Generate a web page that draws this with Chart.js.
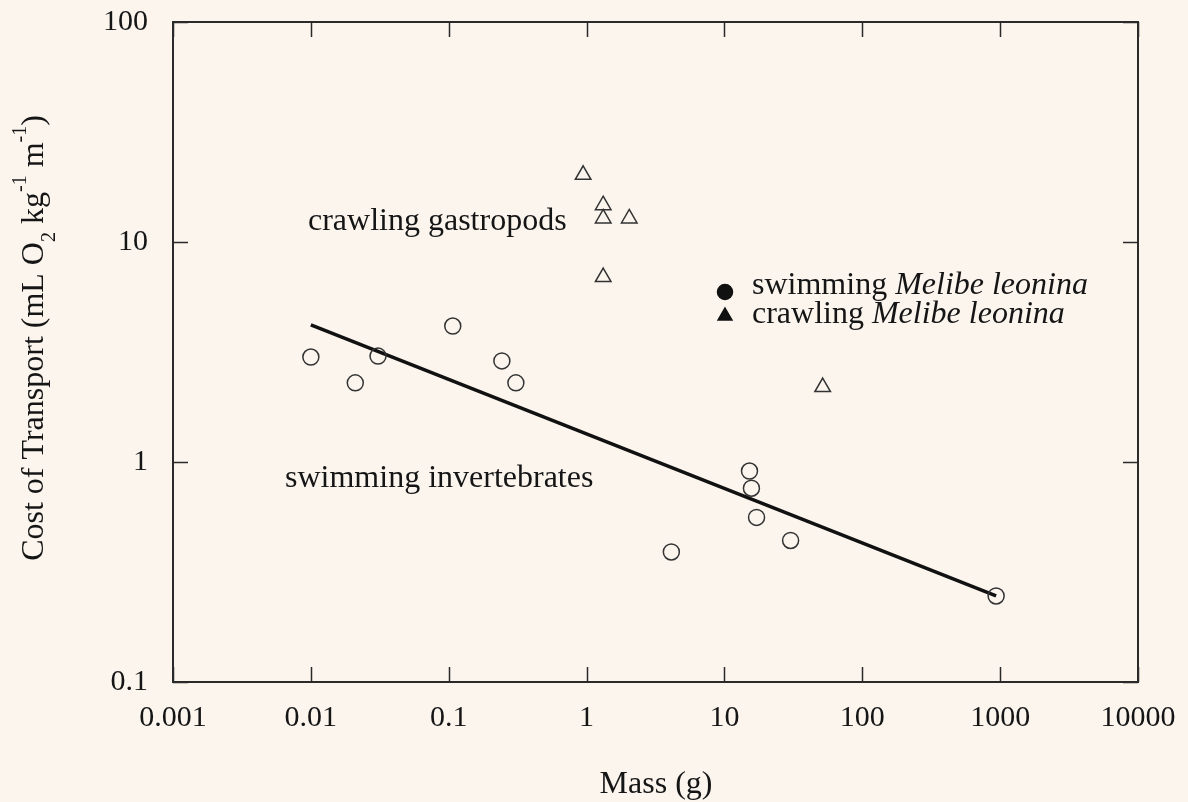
<!DOCTYPE html>
<html lang="en">
<head>
<meta charset="UTF-8">
<title>Cost of Transport vs Mass</title>
<script src="https://cdn.jsdelivr.net/npm/chart.js@4.4.0/dist/chart.umd.min.js"></script>
<style>
  html, body { margin: 0; padding: 0; background: #fbf5ee; }
  #wrap { width: 1188px; height: 802px; }
</style>
</head>
<body>
<div id="wrap"><canvas id="chart" width="1188" height="802"></canvas></div>
<script>
// data (log-log)
const swimMass = [0.01, 0.021, 0.0307, 0.107, 0.243, 0.307, 4.12, 15.2, 15.7, 17.1, 30.2, 935];
const swimCost = [3.0, 2.29, 3.03, 4.15, 2.88, 2.29, 0.39, 0.91, 0.76, 0.56, 0.44, 0.246];

const crawlMass = [0.944, 1.32, 1.32, 2.04, 1.32, 51.6];
const crawlCost = [20.2, 14.7, 12.8, 12.8, 6.93, 2.19];

// regression line for swimming invertebrates
const fitMass = [0.01, 935];
const fitCost = [4.2, 0.246];

const xTicks = [0.001, 0.01, 0.1, 1, 10, 100, 1000, 10000];
const xTickLabels = ['0.001', '0.01', '0.1', '1', '10', '100', '1000', '10000'];
const yTicks = [0.1, 1, 10, 100];
const yTickLabels = ['0.1', '1', '10', '100'];

const SERIF = '"Liberation Serif", "Times New Roman", serif';
const INK = '#151515';

const toPoints = (xs, ys) => xs.map((x, i) => ({ x: x, y: ys[i] }));

// box, inward ticks, titles, annotations and the legend
const decorPlugin = {
  id: 'decor',
  beforeDraw(chart) {
    const ctx = chart.ctx;
    ctx.save();
    ctx.fillStyle = '#fbf5ee';
    ctx.fillRect(0, 0, chart.width, chart.height);
    ctx.restore();
  },
  afterDraw(chart) {
    const ctx = chart.ctx;
    const a = chart.chartArea;
    const xs = chart.scales.x, ys = chart.scales.y;
    ctx.save();

    // frame
    ctx.strokeStyle = '#2a2a2a';
    ctx.lineWidth = 2;
    ctx.strokeRect(a.left, a.top, a.right - a.left, a.bottom - a.top);

    // inward ticks on all sides
    const tl = 15;
    ctx.lineWidth = 1.5;
    ctx.beginPath();
    xTicks.forEach(v => {
      const px = Math.round(xs.getPixelForValue(v)) + 0.5;
      ctx.moveTo(px, a.bottom); ctx.lineTo(px, a.bottom - tl);
      ctx.moveTo(px, a.top); ctx.lineTo(px, a.top + tl);
    });
    yTicks.forEach(v => {
      const py = Math.round(ys.getPixelForValue(v)) + 0.5;
      ctx.moveTo(a.left, py); ctx.lineTo(a.left + tl, py);
      ctx.moveTo(a.right, py); ctx.lineTo(a.right - tl, py);
    });
    ctx.stroke();

    ctx.fillStyle = INK;
    const big = '32px ' + SERIF, small = '20px ' + SERIF;

    // x title
    ctx.font = big;
    ctx.textAlign = 'center';
    ctx.textBaseline = 'alphabetic';
    ctx.fillText('Mass (g)', 656, 793);

    // y title with sub/superscripts
    const parts = [
      { t: 'Cost of Transport (mL O', s: 0 },
      { t: '2', s: 1 },
      { t: ' kg', s: 0 },
      { t: '-1', s: -1 },
      { t: ' m', s: 0 },
      { t: '-1', s: -1 },
      { t: ')', s: 0 }
    ];
    let total = 0;
    parts.forEach(p => { ctx.font = p.s ? small : big; p.w = ctx.measureText(p.t).width; total += p.w; });
    ctx.translate(43, 338);
    ctx.rotate(-Math.PI / 2);
    ctx.textAlign = 'left';
    let cx = -total / 2;
    parts.forEach(p => {
      ctx.font = p.s ? small : big;
      const dy = p.s === 1 ? 12 : (p.s === -1 ? -17 : 0);
      ctx.fillText(p.t, cx, dy);
      cx += p.w;
    });
    ctx.setTransform(1, 0, 0, 1, 0, 0);

    // group labels
    ctx.font = big;
    ctx.textAlign = 'left';
    ctx.fillText('crawling gastropods', 308, 230);
    ctx.fillText('swimming invertebrates', 285, 487);

    // legend
    const legend = [
      { style: 'circle', y: 292, base: 294, word: 'swimming ' },
      { style: 'triangle', y: 316, base: 323, word: 'crawling ' }
    ];
    legend.forEach(l => {
      const opts = { pointStyle: l.style, radius: l.style === 'circle' ? 7.5 : 8, rotation: 0, borderWidth: 1 };
      ctx.fillStyle = '#111';
      ctx.strokeStyle = '#111';
      if (Chart.helpers && Chart.helpers.drawPoint) {
        Chart.helpers.drawPoint(ctx, opts, 725, l.y);
      }
      ctx.fillStyle = INK;
      ctx.font = big;
      ctx.fillText(l.word, 752, l.base);
      const w = ctx.measureText(l.word).width;
      ctx.font = 'italic ' + big;
      ctx.fillText('Melibe leonina', 752 + w, l.base);
    });

    ctx.restore();
  }
};

new Chart(document.getElementById('chart'), {
  type: 'scatter',
  data: {
    datasets: [
      {
        type: 'line',
        label: 'fit',
        data: toPoints(fitMass, fitCost),
        borderColor: '#111',
        borderWidth: 3.5,
        pointRadius: 0,
        fill: false,
        order: 3
      },
      {
        label: 'swimming invertebrates',
        data: toPoints(swimMass, swimCost),
        pointStyle: 'circle',
        pointRadius: 8,
        pointBorderWidth: 1.5,
        borderColor: '#333',
        backgroundColor: 'rgba(0,0,0,0)',
        order: 1
      },
      {
        label: 'crawling gastropods',
        data: toPoints(crawlMass, crawlCost),
        pointStyle: 'triangle',
        pointRadius: 9,
        pointBorderWidth: 1.5,
        borderColor: '#333',
        backgroundColor: 'rgba(0,0,0,0)',
        order: 2
      }
    ]
  },
  options: {
    responsive: false,
    devicePixelRatio: 1,
    animation: false,
    layout: { padding: { left: 0, right: 50, top: 22, bottom: 0 } },
    plugins: {
      legend: { display: false },
      tooltip: { enabled: false }
    },
    scales: {
      x: {
        type: 'logarithmic',
        min: 0.001,
        max: 10000,
        afterBuildTicks: s => { s.ticks = xTicks.map(v => ({ value: v })); },
        afterFit: s => { s.height = 120; s.paddingLeft = 0; s.paddingRight = 0; },
        ticks: {
          callback: (v, i) => xTickLabels[i],
          font: { family: SERIF, size: 30 },
          color: INK,
          padding: 18,
          maxRotation: 0,
          autoSkip: false
        },
        grid: { display: false, drawTicks: false },
        border: { display: false }
      },
      y: {
        type: 'logarithmic',
        min: 0.1,
        max: 100,
        afterBuildTicks: s => { s.ticks = yTicks.map(v => ({ value: v })); },
        afterFit: s => { s.width = 173; s.paddingTop = 0; s.paddingBottom = 0; },
        ticks: {
          callback: (v, i) => yTickLabels[i],
          font: { family: SERIF, size: 30 },
          color: INK,
          padding: 25,
          autoSkip: false
        },
        grid: { display: false, drawTicks: false },
        border: { display: false }
      }
    }
  },
  plugins: [decorPlugin]
});
</script>
</body>
</html>
